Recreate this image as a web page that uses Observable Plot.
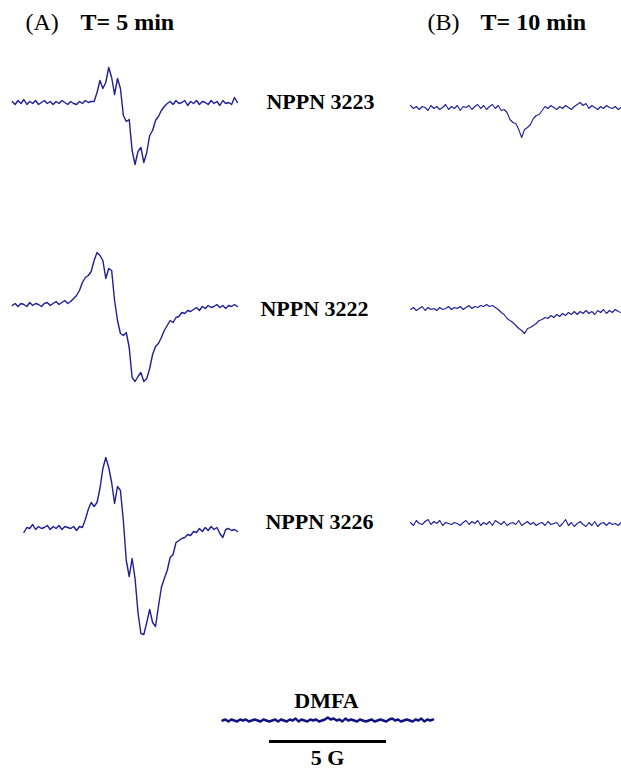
<!DOCTYPE html>
<html>
<head>
<meta charset="utf-8">
<script src="https://cdn.jsdelivr.net/npm/d3@7"></script>
<script src="https://cdn.jsdelivr.net/npm/@observablehq/plot@0.6"></script>
<style>
  html, body { margin: 0; padding: 0; background: #fff; }
  #chart svg { display: block; }
</style>
</head>
<body>
<div id="chart"></div>
<script>
// ---------------- DATA (EPR spectra, intensity in arbitrary units, sampled every 0.125 G) ----------------
const fieldStep = 0.125; // Gauss per sample

// Panel A, T = 5 min
const a3223 = [1,-2,2,-1,3,-2,1,-1,2,-2,0,2,-1,1,-2,1,-1,2,0,-2,1,-1,-2,1,-1,2,0,1,
  1,10,22,14,20,35,25,8,24,14,-13,-19,-17,-48,-62,-49,-45,-60,-50,-33,-28,-18,-14,-8,-4,-1,
  1,-2,2,-1,0,2,-3,1,-1,2,-2,1,0,-2,2,-1,1,-3,2,-1,0,-2,5,0];
const a3222 = [-1,1,-2,1,0,-2,2,-1,1,0,-2,1,2,-1,1,3,0,2,4,1,3,
  6,9,14,22,27,29,33,44,52,49,44,26,36,34,4,-16,-29,-31,-28,-43,-73,-77,-72,-68,-77,-74,-64,-50,-42,-39,-33,-26,-21,-16,-18,-13,-12,-8,-9,-6,-7,
  -5,-3,-6,-2,-4,-1,-3,-2,0,-3,-1,-4,-1,-2,0,-2];
const a3226 = [-5,0,-1,3,-2,1,-1,0,2,-2,1,-1,2,-2,1,0,-1,1,-3,1,0,
  8,18,25,21,25,39,59,70,60,45,24,41,37,7,-33,-49,-31,-51,-85,-106,-107,-95,-82,-95,-99,-79,-60,-51,-43,-30,-27,-15,-13,-11,-10,-7,-8,-4,-5,-1,
  -4,0,-3,1,-2,0,-6,-10,-2,-1,-3,-2,-4];

// Panel B, T = 10 min
const b3223 = [2,-1,1,-2,1,0,-3,2,-1,1,-2,0,3,-2,1,-1,2,-3,1,0,2,-2,1,3,-1,2,-2,1,3,-1,2,-3,
  -2,-5,-12,-15,-16,-22,-30,-22,-20,-17,-11,-8,-7,-3,1,
  -1,2,0,-2,1,-1,2,0,-2,1,3,5,2,4,-1,2,0,-2,1,-1,2,0,-1,1,-2,0];
const b3222 = [0,2,-1,1,3,-1,2,0,1,-1,2,0,1,3,0,2,1,3,0,2,4,1,3,2,4,3,5,
  3,4,2,0,-3,-5,-9,-11,-13,-16,-19,-21,-24,-19,-18,-16,-14,-11,-10,-8,-9,-6,-8,-5,-7,
  -4,-6,-3,-5,-2,-5,-2,-4,-1,-4,-2,-5,-1,-3,0,-4,-1,-3,0,-2,-3];
const b3226 = [1,-2,3,0,-1,2,4,-1,2,0,3,-2,1,0,-1,1,0,-2,1,3,-1,2,0,3,-2,1,-1,2,-2,3,
  1,-1,2,-2,0,1,-1,3,-2,0,2,-1,1,-2,0,1,-2,2,-1,0,1,-3,0,4,-2,1,-3,0,2,-1,
  -3,1,-2,2,-3,0,1,-2,1,-1,0,-2,1];

// Solvent blank
const dmfa = [0,1,-1,1,0,-1,1,0,1,-1,0,1,0,-1,1,0,-1,0,1,-1,1,0,-1,1,0,2,-1,1,0,-1,
  1,0,1,-1,0,1,3,1,2,0,1,-1,2,0,1,0,-1,1,0,-1,0,1,-1,0,1,0,-1,1,2,0,1,-1,0,1,0,-1,1,0,2,-1,1,0,1];

const sampleNames = ["NPPN 3223", "NPPN 3222", "NPPN 3226"];
const panelLetters = ["(A)", "(B)"];
const panelTimes = ["T= 5 min", "T= 10 min"];
const solventName = "DMFA";
const scaleBarGauss = 5;
const scaleBarLabel = "5 G";

// ---------------- LAYOUT ----------------
const W = 621, H = 769;
const pxPerG = 23.4;                 // horizontal field scale
const G = px => px / pxPerG;         // layout helper: page px -> Gauss
const colStartA = G(11.7), colStartB = G(410);
const rowBaseA = [102, 304, 527], rowBaseB = [107, 309, 523];
const seriesA = [a3223, a3222, a3226], seriesB = [b3223, b3222, b3226];
const startIdxA = [0, 0, 4];

function tracePoints(values, x0, base, id) {
  return values.map((v, i) => ({id, g: x0 + i * fieldStep, y: base - v}));
}
const ptsA = seriesA.flatMap((s, r) => tracePoints(s, colStartA + startIdxA[r] * fieldStep, rowBaseA[r], "A" + r));
const ptsB = seriesB.flatMap((s, r) => tracePoints(s, colStartB, rowBaseB[r], "B" + r));
const ptsD = tracePoints(dmfa, G(222), 720, "D");

const labelX = [G(320), G(314), G(319)], labelY = [101, 308, 521];
const sampleLabels = sampleNames.map((t, r) => ({t, x: labelX[r], y: labelY[r]}));
const letterLabels = panelLetters.map((t, c) => ({t, x: [G(25), G(427)][c], y: 22}));
const timeLabels = panelTimes.map((t, c) => ({t, x: [G(80), G(480)][c], y: 22}));
const barX1 = G(269), barY = 741;
const bottomLabels = [{t: solventName, x: G(326), y: 700}, {t: scaleBarLabel, x: G(327), y: 757}];

const font = "'Liberation Serif', 'Times New Roman', serif";
const traceColor = "#1e1e98";

const chart = Plot.plot({
  width: W, height: H,
  margin: 0,
  x: {domain: [0, W / pxPerG], axis: null},
  y: {domain: [0, H], range: [0, H], axis: null},
  style: {background: "#fff", fontFamily: font},
  marks: [
    Plot.line(ptsA, {x: "g", y: "y", z: "id", stroke: traceColor, strokeWidth: 1.4, curve: "linear"}),
    Plot.line(ptsB, {x: "g", y: "y", z: "id", stroke: traceColor, strokeWidth: 1.1, curve: "linear"}),
    Plot.line(ptsD, {x: "g", y: "y", z: "id", stroke: "#121280", strokeWidth: 2.4, curve: "linear"}),
    Plot.ruleY([barY], {x1: barX1, x2: barX1 + scaleBarGauss, stroke: "#000", strokeWidth: 3}),
    Plot.text(sampleLabels, {x: "x", y: "y", text: "t", fontSize: 22, fontWeight: "bold", fill: "#000", textAnchor: "middle", lineAnchor: "middle", fontFamily: font}),
    Plot.text(bottomLabels, {x: "x", y: "y", text: "t", fontSize: 22, fontWeight: "bold", fill: "#000", textAnchor: "middle", lineAnchor: "middle", fontFamily: font}),
    Plot.text(letterLabels, {x: "x", y: "y", text: "t", fontSize: 24, fill: "#000", textAnchor: "start", lineAnchor: "middle", fontFamily: font}),
    Plot.text(timeLabels, {x: "x", y: "y", text: "t", fontSize: 24, fontWeight: "bold", fill: "#000", textAnchor: "start", lineAnchor: "middle", fontFamily: font})
  ]
});
document.getElementById("chart").appendChild(chart);
</script>
</body>
</html>
